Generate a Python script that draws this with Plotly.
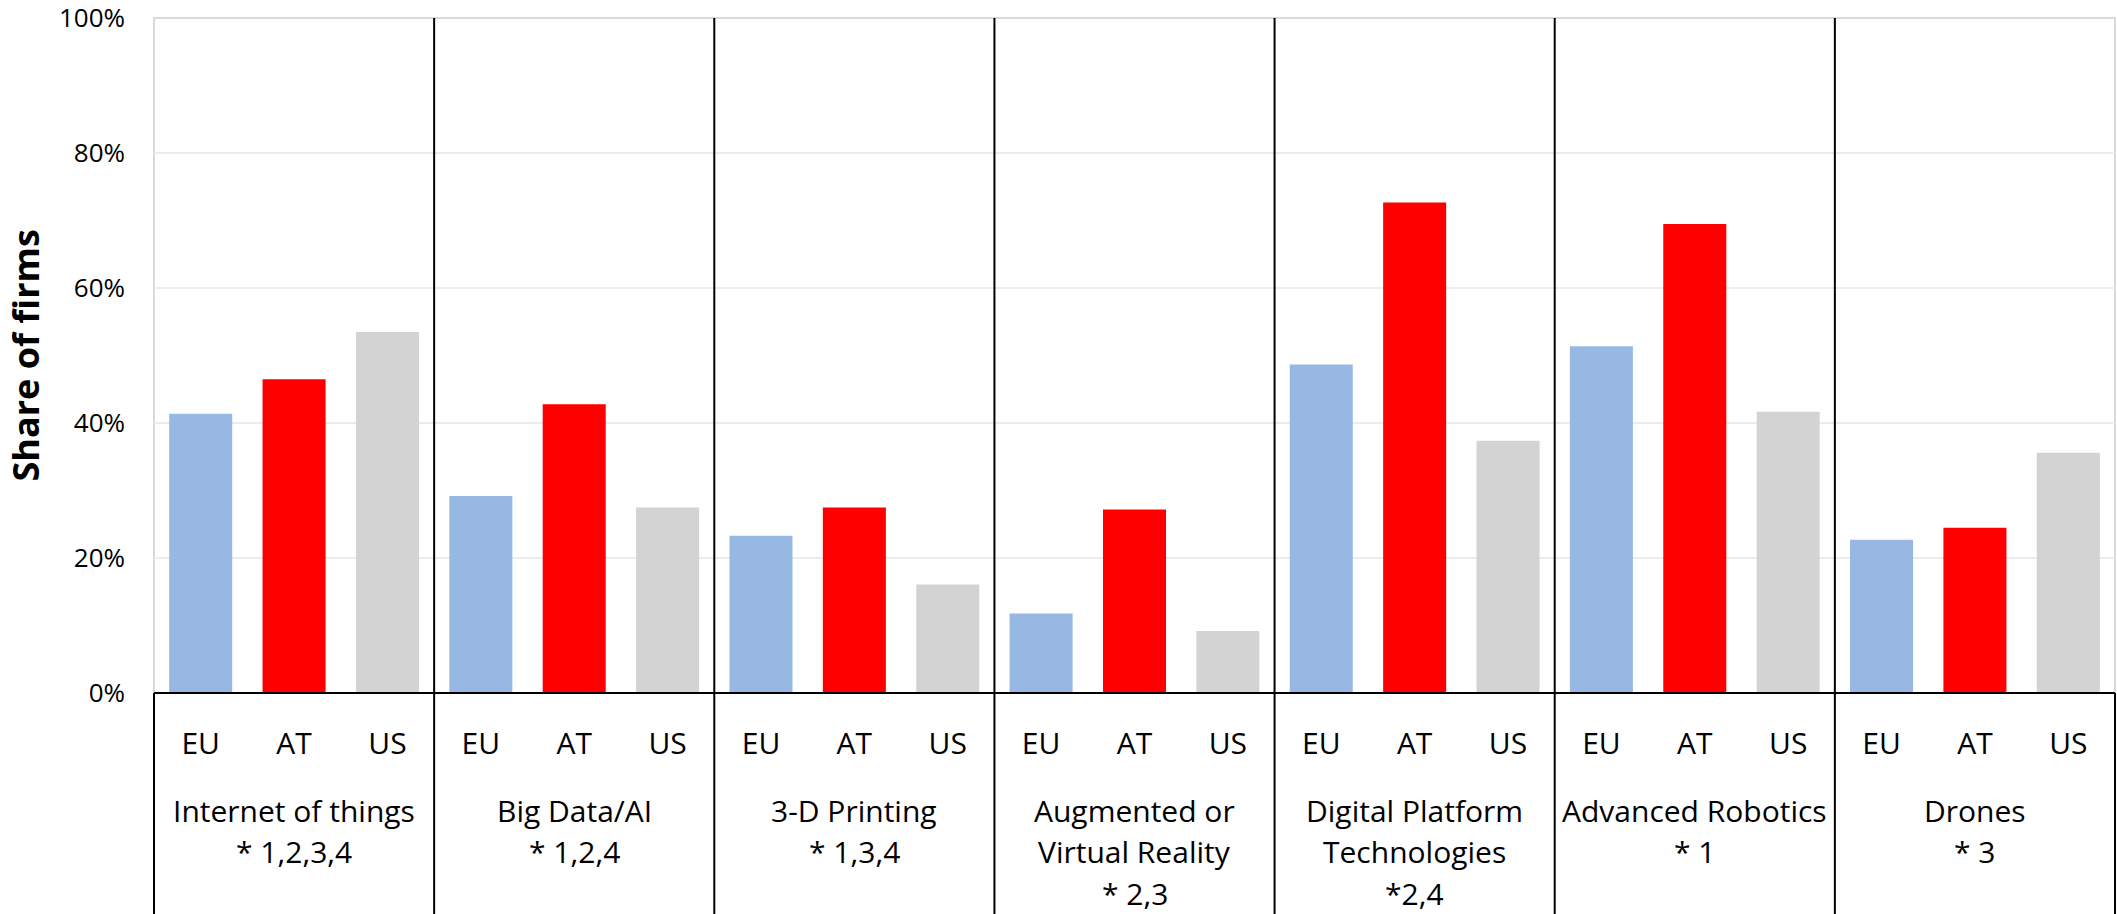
import plotly.graph_objects as go

# Technologies (one group of three bars each) and their footnote lines
technologies = [
    ["Internet of things", "* 1,2,3,4"],
    ["Big Data/AI", "* 1,2,4"],
    ["3-D Printing", "* 1,3,4"],
    ["Augmented or", "Virtual Reality", "* 2,3"],
    ["Digital Platform", "Technologies", "*2,4"],
    ["Advanced Robotics", "* 1"],
    ["Drones", "* 3"],
]
regions = ["EU", "AT", "US"]

# Share of firms adopting each technology
eu_share = [0.414, 0.292, 0.233, 0.118, 0.487, 0.514, 0.227]
at_share = [0.465, 0.428, 0.275, 0.272, 0.727, 0.695, 0.245]
us_share = [0.535, 0.275, 0.161, 0.092, 0.374, 0.417, 0.356]

y_ticks = [0, 0.2, 0.4, 0.6, 0.8, 1.0]

colors = {"EU": "#98B8E4", "AT": "#FF0000", "US": "#D3D3D3"}
series = {"EU": eu_share, "AT": at_share, "US": us_share}

n_cat = len(technologies)
n_reg = len(regions)
FONT = "Open Sans"

W, H = 2117, 914
M_L, M_R, M_T, M_B = 154, 2, 18, 221

fig = go.Figure()
for j, reg in enumerate(regions):
    fig.add_trace(go.Bar(
        x=[i * n_reg + j for i in range(n_cat)],
        y=series[reg],
        name=reg,
        width=0.675,
        marker=dict(color=colors[reg], line=dict(width=0)),
        showlegend=False,
    ))

# x positions for the EU / AT / US tick labels
tick_pos = [i * n_reg + j for i in range(n_cat) for j in range(n_reg)]
tick_txt = [regions[j] for i in range(n_cat) for j in range(n_reg)]

shapes = []
# light grey frame around the plotting area
shapes.append(dict(type="rect", xref="paper", yref="paper", x0=0, x1=1, y0=0, y1=1,
                   line=dict(color="#D9D9D9", width=2), layer="below"))

PLOT_H = H - M_T - M_B
label_depth = M_B / PLOT_H
for i in range(n_cat + 1):
    xf = i / n_cat
    top = 1 if 0 < i < n_cat else 0
    shapes.append(dict(type="line", xref="paper", yref="paper", x0=xf, x1=xf,
                       y0=-label_depth - 0.01, y1=top,
                       line=dict(color="#000000", width=2)))
# baseline
shapes.append(dict(type="line", xref="paper", yref="paper", x0=0, x1=1, y0=0, y1=0,
                   line=dict(color="#000000", width=2)))

annotations = []
line_offsets = [117, 158, 200]
for i, lines in enumerate(technologies):
    for k, txt in enumerate(lines):
        annotations.append(dict(
            x=i * n_reg + 1, xref="x", y=0, yref="paper",
            text=txt, showarrow=False, xanchor="center", yanchor="middle",
            yshift=-line_offsets[k],
            font=dict(family=FONT, size=30, color="#000000"),
        ))

annotations.append(dict(
    x=-(M_L - 25) / (W - M_L - M_R), xref="paper", y=0.5, yref="paper",
    text="<b>Share of firms</b>", textangle=-90, showarrow=False,
    xanchor="center", yanchor="middle",
    font=dict(family=FONT, size=36, color="#000000"),
))

fig.update_layout(
    width=W, height=H,
    margin=dict(l=M_L, r=M_R, t=M_T, b=M_B, autoexpand=False),
    paper_bgcolor="white", plot_bgcolor="white",
    barmode="overlay",
    shapes=shapes,
    annotations=annotations,
    xaxis=dict(
        range=[-0.5, n_cat * n_reg - 0.5],
        tickmode="array", tickvals=tick_pos, ticktext=tick_txt,
        showgrid=False, zeroline=False, showline=False, ticks="",
        ticklabelstandoff=30, automargin=False,
        tickfont=dict(family=FONT, size=30, color="#000000"),
    ),
    yaxis=dict(
        range=[0, 1.0005], tickvals=y_ticks, tickformat=".0%",
        showgrid=True, gridcolor="#EBEBF2", gridwidth=2,
        zeroline=False, showline=False, ticks="",
        ticklabelstandoff=28, ticklabeloverflow="allow", automargin=False,
        tickfont=dict(family=FONT, size=26, color="#000000"),
    ),
)

fig.write_html("out.html")
